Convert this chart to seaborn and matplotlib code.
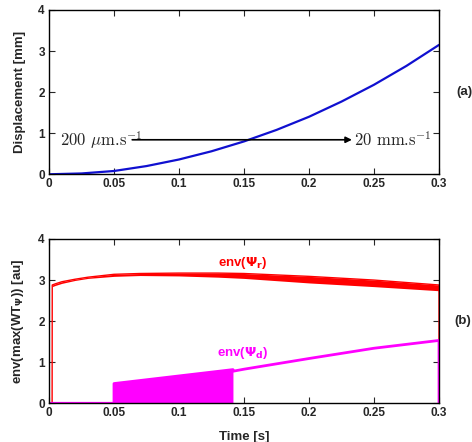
import numpy as np
import pandas as pd
import seaborn as sns
import matplotlib.pyplot as plt

# panel (a): displacement of the target
disp_t = [0, 0.025, 0.05, 0.075, 0.1, 0.125, 0.15, 0.175, 0.2, 0.225, 0.25, 0.275, 0.3]
disp_mm = [0, 0.02, 0.08, 0.2, 0.36, 0.56, 0.80, 1.08, 1.40, 1.77, 2.18, 2.64, 3.15]

# panel (b): envelope of reflected wave (band between lo and hi)
red_t = [0.0024, 0.0025, 0.005, 0.01, 0.02, 0.03, 0.05, 0.07, 0.1, 0.13, 0.15, 0.2, 0.25, 0.3, 0.3]
red_hi = [0, 2.88, 2.91, 2.96, 3.02, 3.07, 3.14, 3.16, 3.17, 3.17, 3.16, 3.09, 3.00, 2.88, 0]
red_lo = [0, 2.84, 2.87, 2.92, 2.99, 3.04, 3.09, 3.11, 3.10, 3.07, 3.04, 2.93, 2.84, 2.74, 0]

# envelope of direct wave
mag_t = [0, 0.05, 0.05, 0.1415, 0.1415, 0.15, 0.2, 0.25, 0.3, 0.3]
mag_y = [0, 0, 0.48, 0.82, 0.78, 0.83, 1.09, 1.34, 1.53, 0]
mag_fill_t = [0.05, 0.1415]
mag_fill_top = [0.48, 0.82]

xticks = [0, 0.05, 0.1, 0.15, 0.2, 0.25, 0.3]
xticklabels = ['0', '0.05', '0.1', '0.15', '0.2', '0.25', '0.3']
yticks = [0, 1, 2, 3, 4]

sns.set_style('ticks', {'xtick.direction': 'in', 'ytick.direction': 'in'})
plt.rcParams['font.family'] = ['Liberation Sans', 'DejaVu Sans']
plt.rcParams['mathtext.fontset'] = 'cm'
plt.rcParams['font.weight'] = 'bold'

fig = plt.figure(figsize=(4.72, 4.42), dpi=100)
ax1 = fig.add_axes([0.1038, 0.6057, 0.8263, 0.3717])
ax2 = fig.add_axes([0.1038, 0.0876, 0.8263, 0.3717])

def style_axes(ax):
    ax.set_xlim(0, 0.3)
    ax.set_ylim(0, 4)
    ax.set_xticks(xticks)
    ax.set_xticklabels(xticklabels)
    ax.set_yticks(yticks)
    ax.tick_params(top=True, right=True, length=4, width=0.8, labelsize=8.5, pad=3)
    for lab in ax.get_xticklabels() + ax.get_yticklabels():
        lab.set_fontweight('bold')
    for s in ax.spines.values():
        s.set_linewidth(1.0)
        s.set_color('black')

# top panel
df_disp = pd.DataFrame({'t': disp_t, 'd': disp_mm})
sns.lineplot(data=df_disp, x='t', y='d', color='#1010d0', lw=1.6, ax=ax1)
style_axes(ax1)
ax1.set_xlabel('')
ax1.set_ylabel('Displacement [mm]', fontsize=9.5, fontweight='bold', labelpad=9)
ax1.annotate('', xy=(0.233, 0.84), xytext=(0.064, 0.84),
             arrowprops=dict(arrowstyle='-|>', color='black', lw=1.2,
                             mutation_scale=9, shrinkA=0, shrinkB=0))
ax1.text(0.0085, 0.84, r'200 $\mu$m.s$^{-1}$', fontsize=12, family='cmr10',
         fontweight='normal', va='center', ha='left')
ax1.text(0.2345, 0.84, r'20 mm.s$^{-1}$', fontsize=12, family='cmr10',
         fontweight='normal', va='center', ha='left')
ax1.text(1.045, 0.5, '(a)', transform=ax1.transAxes, fontsize=9.5,
         fontweight='bold', va='center', ha='left')

# bottom panel
df_red = pd.DataFrame({'t': red_t, 'hi': red_hi, 'lo': red_lo})
ax2.fill_between(df_red['t'], df_red['lo'], df_red['hi'], color='red', lw=0)
sns.lineplot(data=df_red, x='t', y='hi', color='red', lw=1.0, sort=False,
             estimator=None, ax=ax2)
ax2.fill_between(mag_fill_t, 0, mag_fill_top, color='magenta', lw=0)
df_mag = pd.DataFrame({'t': mag_t, 'y': mag_y})
sns.lineplot(data=df_mag, x='t', y='y', color='magenta', lw=2.0, sort=False,
             estimator=None, ax=ax2)
style_axes(ax2)
ax2.set_xlabel('Time [s]', fontsize=9.5, fontweight='bold', labelpad=8)
ax2.set_ylabel(r'env(max(WT$_{\Psi}$)) [au]', fontsize=9.5, fontweight='bold',
               labelpad=9, math_fontfamily='dejavusans')
ax2.text(0.13, 3.42, r'env($\Psi_\mathbf{r}$)', color='red', fontsize=9.5,
         fontweight='bold', va='center', ha='left', math_fontfamily='dejavusans')
ax2.text(0.129, 1.23, r'env($\Psi_\mathbf{d}$)', color='magenta', fontsize=9.5,
         fontweight='bold', va='center', ha='left', math_fontfamily='dejavusans')
ax2.text(1.04, 0.5, '(b)', transform=ax2.transAxes, fontsize=9.5,
         fontweight='bold', va='center', ha='left')

fig.savefig('out.png', dpi=100)
